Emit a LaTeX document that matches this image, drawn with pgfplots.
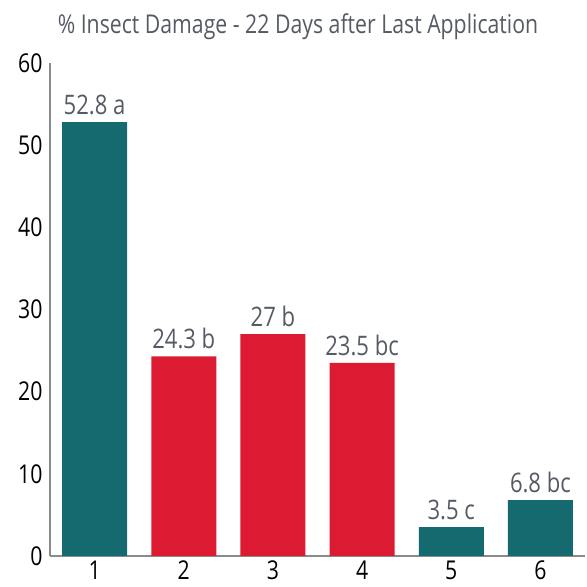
\documentclass[border=0pt]{standalone}
\usepackage{pgfplots}
\pgfplotsset{compat=1.18}
\usepackage{fontspec}
\setmainfont{Open Sans}[FakeStretch=0.82]
\definecolor{teal1}{HTML}{156A70}
\definecolor{red1}{HTML}{DC1B32}
\definecolor{gtext}{HTML}{555A64}
\definecolor{gaxis}{HTML}{8A8A8A}
\begin{document}
\begin{tikzpicture}[x=1bp,y=1bp]
\useasboundingbox (0,0) rectangle (587,587);
\node[font=\fontsize{26}{28}\selectfont, text=gtext, anchor=base] at (298,553) {\% Insect Damage - 22 Days after Last Application};
\begin{axis}[
  at={(50bp,31bp)}, anchor=origin,
  scale only axis, width=535bp, height=493bp,
  xmin=0.5, xmax=6.5, ymin=0, ymax=60,
  axis x line=bottom, axis y line=left,
  axis line style={gaxis, line width=1.3bp, -},
  xtick={1,2,3,4,5,6}, ytick={0,10,20,30,40,50,60},
  major tick length=0pt,
  tick label style={font=\fontsize{26}{28}\selectfont, text=black},
  /pgf/number format/assume math mode=true,
  xticklabel style={inner sep=0pt, yshift=-5bp},
  yticklabel style={xshift=-4bp},
  ybar, bar width=65bp, bar shift=0pt,
  nodes near coords, point meta=explicit symbolic,
  every node near coord/.append style={font=\fontsize{27}{29}\selectfont, text=gtext, inner sep=0pt, yshift=7bp},
  clip=false,
]
\addplot[fill=teal1, draw=none] table[meta=l] {
x y l
1 52.8 {52.8 a}
5 3.5 {3.5 c}
6 6.8 {6.8 bc}
};
\addplot[fill=red1, draw=none] table[meta=l] {
x y l
2 24.3 {24.3 b}
3 27 {27 b}
4 23.5 {23.5 bc}
};
\end{axis}
\end{tikzpicture}
\end{document}
